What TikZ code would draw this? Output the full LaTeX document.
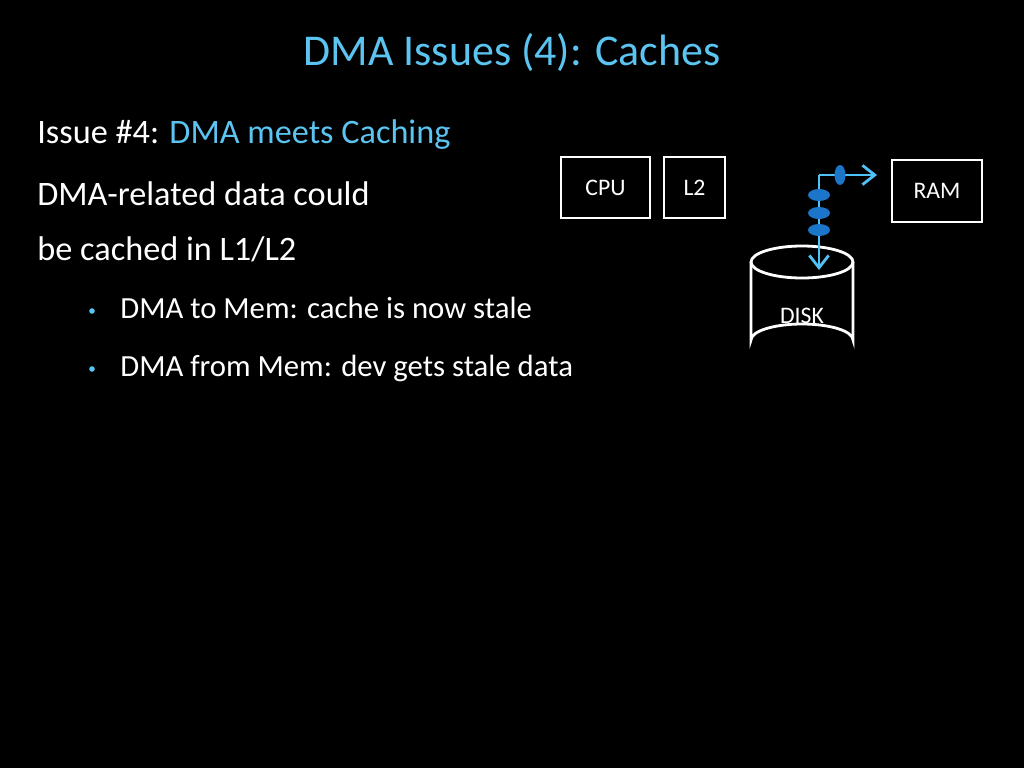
\documentclass[tikz,border=0pt]{standalone}
\usepackage{fontspec}
\setmainfont{Carlito}
\usetikzlibrary{arrows.meta, positioning, shapes.geometric}
\definecolor{titleblue}{HTML}{5BC4F0}
\definecolor{linkblue}{HTML}{4FC3F7}
\definecolor{blobblue}{HTML}{1B75C9}
\tikzstyle{textline} = [anchor=base west, inner sep=0pt, text=white]
\tikzstyle{unit} = [rectangle, draw=white, line width=1.6pt, text=white, font=\fontsize{13.5}{15}\selectfont]
\tikzstyle{bus} = [draw=linkblue, line width=1.6pt]
\tikzstyle{blob} = [ellipse, fill=blobblue, inner sep=0pt]
\begin{document}
\begin{tikzpicture}[x=0.02cm, y=-0.02cm]
  \fill[black] (0,0) rectangle (1024,768);

  % titel
  \node[anchor=base, inner sep=0pt, text=titleblue, font=\fontsize{25}{30}\selectfont] (title) at (512,65) {DMA Issues (4): Caches};

  % tekst
  \node[textline, font=\fontsize{19.5}{23}\selectfont] (issue) at (37,143) {Issue \#4: \textcolor{titleblue}{DMA meets Caching}};
  \node[textline, font=\fontsize{19.5}{23}\selectfont] (line1) at (37,205) {DMA-related data could};
  \node[textline, font=\fontsize{19.5}{23}\selectfont] (line2) at (37,260) {be cached in L1/L2};
  \node[textline, font=\fontsize{17.5}{21}\selectfont] (b1) at (120,318) {DMA to Mem: cache is now stale};
  \node[textline, font=\fontsize{17.5}{21}\selectfont] (b2) at (120,376) {DMA from Mem: dev gets stale data};
  \fill[titleblue] (92,311) circle (2.8);
  \fill[titleblue] (92,369) circle (2.8);

  % eenheden
  \node[unit, minimum width=89*0.02cm, minimum height=61*0.02cm] (cpu) at (605.5,187.5) {CPU};
  \node[unit, minimum width=61*0.02cm, minimum height=61*0.02cm] (l2) at (694.5,187.5) {L2};
  \node[unit, minimum width=90*0.02cm, minimum height=62*0.02cm] (ram) at (937,191) {RAM};

  % schijf
  \draw[white, line width=1.6pt, fill=black] (751,262) -- (751,340) arc[start angle=180, end angle=360, x radius=51, y radius=16] -- (853,262);
  \draw[white, line width=1.6pt] (802,262) ellipse[x radius=51, y radius=16];
  \node[text=white, font=\fontsize{13.5}{15}\selectfont] (disk) at (802,316) {DISK};

  % pad
  \coordinate (bend) at (819,175);
  \coordinate (ramend) at (877,175);
  \coordinate (diskend) at (819,270);
  \draw[bus, -{Straight Barb[length=7pt, width=11pt]}] (bend) -- (ramend);
  \draw[bus, -{Straight Barb[length=7pt, width=11pt]}] (bend) -- (diskend);
  \node[blob, minimum width=11*0.02cm, minimum height=20*0.02cm] (p0) at (840,175) {};
  \foreach \y [count=\i] in {195,213,230}
    \node[blob, minimum width=22*0.02cm, minimum height=12*0.02cm] (p\i) at (819,\y) {};
\end{tikzpicture}
\end{document}
